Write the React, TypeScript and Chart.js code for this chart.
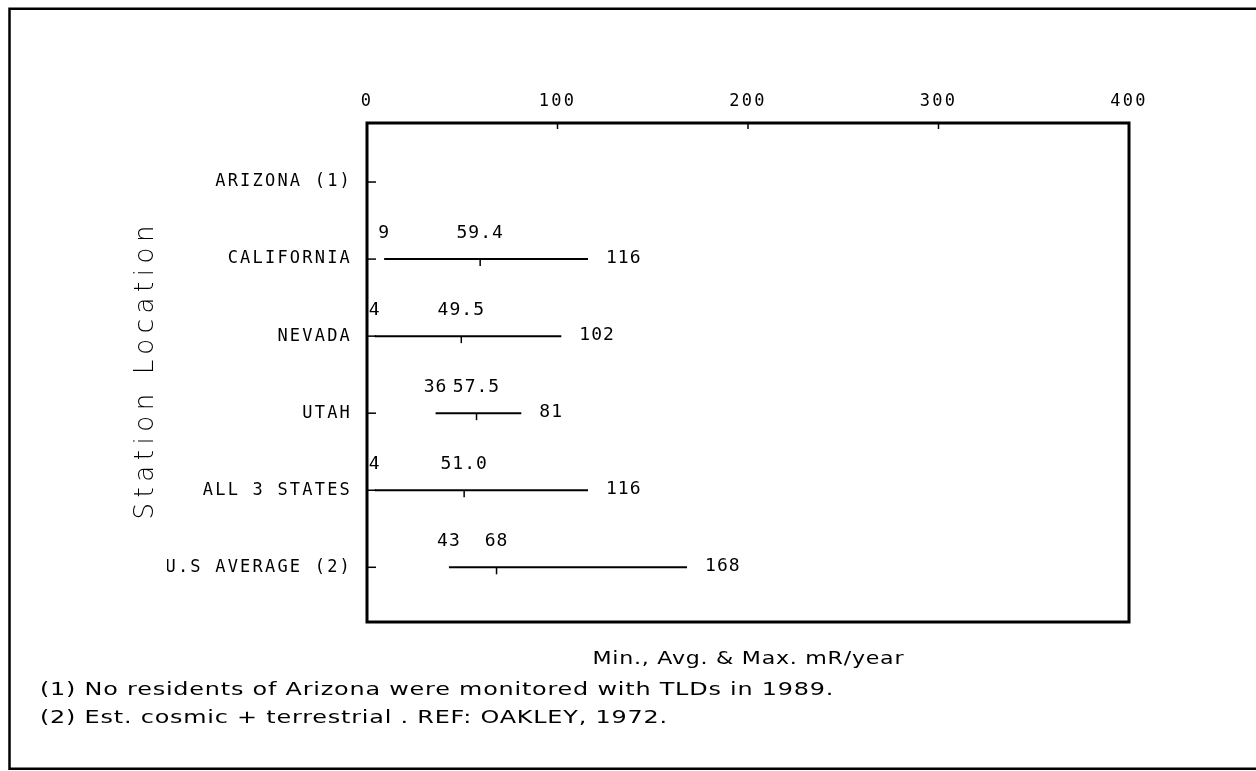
import React, { useEffect, useRef } from "react";
import { Chart, registerables } from "chart.js";

Chart.register(...registerables);

// ---- data ----
const categories = ["ARIZONA (1)", "CALIFORNIA", "NEVADA", "UTAH", "ALL 3 STATES", "U.S AVERAGE (2)"];
const minValues: (number | null)[] = [null, 9, 4, 36, 4, 43];
const avgValues: (number | null)[] = [null, 59.4, 49.5, 57.5, 51.0, 68];
const maxValues: (number | null)[] = [null, 116, 102, 81, 116, 168];
const minLabels = ["", "9", "4", "36", "4", "43"];
const avgLabels = ["", "59.4", "49.5", "57.5", "51.0", "68"];
const maxLabels = ["", "116", "102", "81", "116", "168"];
const xTickValues = [0, 100, 200, 300, 400];

const xTitle = "Min., Avg. & Max. mR/year";
const yTitle = "Station Location";
const footnotes = [
  "(1) No residents of Arizona were monitored with TLDs in 1989.",
  "(2) Est. cosmic + terrestrial . REF: OAKLEY, 1972.",
];

const W = 1256;
const H = 771;
const NOTE_FONT = "18px 'DejaVu Sans'";
const NOTE_SP = 0.6;

function measure(ctx: CanvasRenderingContext2D, text: string, font: string, sp: number) {
  ctx.font = font;
  (ctx as any).letterSpacing = sp + "px";
  const w = ctx.measureText(text).width - sp;
  return w;
}

function drawStretched(ctx: CanvasRenderingContext2D, text: string, x: number, y: number, sx: number, font: string, sp: number) {
  ctx.save();
  ctx.font = font;
  (ctx as any).letterSpacing = sp + "px";
  ctx.textAlign = "left";
  ctx.translate(x, y);
  ctx.scale(sx, 1);
  ctx.fillText(text, 0, 0);
  ctx.restore();
}

function fitSpacing(ctx: CanvasRenderingContext2D, text: string, width: number, font: string) {
  ctx.font = font;
  (ctx as any).letterSpacing = "0px";
  const w = ctx.measureText(text).width;
  return (width - w) / Math.max(1, text.length - 1);
}

const decorPlugin = {
  id: "decor",
  beforeDraw(chart: any) {
    chart.ctx.letterSpacing = "2.2px";
  },
  afterDraw(chart: any) {
    const ctx: CanvasRenderingContext2D = chart.ctx;
    const a = chart.chartArea;
    const xs = chart.scales.x;
    const ys = chart.scales.y;
    ctx.save();
    (ctx as any).letterSpacing = "0px";
    ctx.strokeStyle = "#000";
    ctx.fillStyle = "#000";
    ctx.lineCap = "butt";

    // outer frame (top, left, bottom)
    ctx.lineWidth = 2.5;
    ctx.beginPath();
    ctx.moveTo(W, 8.8);
    ctx.lineTo(9.5, 8.8);
    ctx.lineTo(9.5, 768.8);
    ctx.lineTo(W, 768.8);
    ctx.stroke();

    // plot border
    ctx.lineWidth = 3;
    ctx.strokeRect(a.left, a.top, a.right - a.left, a.bottom - a.top);

    // x ticks (inside, top)
    ctx.lineWidth = 1.5;
    xTickValues.forEach((v) => {
      const px = xs.getPixelForValue(v);
      ctx.beginPath();
      ctx.moveTo(px, a.top);
      ctx.lineTo(px, a.top + 6);
      ctx.stroke();
    });
    // y ticks (inside, left)
    categories.forEach((_, i) => {
      const py = ys.getPixelForValue(i);
      ctx.beginPath();
      ctx.moveTo(a.left, py);
      ctx.lineTo(a.left + 9, py);
      ctx.stroke();
    });

    // avg tick marks and value labels
    ctx.font = "18px 'DejaVu Sans Mono'";
    (ctx as any).letterSpacing = "1px";
    ctx.textBaseline = "middle";
    categories.forEach((_, i) => {
      const mn = minValues[i];
      const av = avgValues[i];
      const mx = maxValues[i];
      if (mn == null || av == null || mx == null) return;
      const py = ys.getPixelForValue(i);
      const pAvg = xs.getPixelForValue(av);
      ctx.lineWidth = 1.5;
      ctx.beginPath();
      ctx.moveTo(pAvg, py);
      ctx.lineTo(pAvg, py + 7);
      ctx.stroke();

      ctx.textAlign = "center";
      ctx.fillText(minLabels[i], xs.getPixelForValue(mn), py - 26);
      ctx.fillText(avgLabels[i], pAvg, py - 26);
      ctx.textAlign = "left";
      ctx.fillText(maxLabels[i], xs.getPixelForValue(mx) + 18, py - 1);
    });
    (ctx as any).letterSpacing = "0px";

    // x axis title (below plot) and footnotes
    ctx.textBaseline = "middle";
    const w2 = measure(ctx, footnotes[1], NOTE_FONT, NOTE_SP);
    const noteScale = 627 / w2;
    drawStretched(ctx, footnotes[0], 40, 690, noteScale, NOTE_FONT, NOTE_SP);
    drawStretched(ctx, footnotes[1], 40, 718, noteScale, NOTE_FONT, NOTE_SP);
    const wt = measure(ctx, xTitle, NOTE_FONT, NOTE_SP);
    const titleScale = 311 / wt;
    const cx = (a.left + a.right) / 2;
    drawStretched(ctx, xTitle, cx - 155.5, 659, titleScale, NOTE_FONT, NOTE_SP);

    // y axis title (rotated)
    ctx.save();
    const cy = (a.top + a.bottom) / 2;
    ctx.translate(153, cy);
    ctx.rotate(-Math.PI / 2);
    ctx.textBaseline = "alphabetic";
    const yfont = "200 26px 'DejaVu Sans'";
    const ysp = fitSpacing(ctx, yTitle, 294, yfont);
    ctx.font = yfont;
    (ctx as any).letterSpacing = ysp + "px";
    ctx.textAlign = "left";
    ctx.fillText(yTitle, -147, 0);
    ctx.restore();

    ctx.restore();
  },
};

export default function App() {
  const ref = useRef<HTMLCanvasElement | null>(null);
  useEffect(() => {
    if (!ref.current) return;
    const datasets = categories
      .map((c, i) => {
        const mn = minValues[i];
        const mx = maxValues[i];
        if (mn == null || mx == null) return null;
        return {
          label: c,
          data: [
            { x: mn, y: i },
            { x: mx, y: i },
          ],
          showLine: true,
          borderColor: "#000",
          backgroundColor: "#000",
          borderWidth: 2,
          pointRadius: 0,
        };
      })
      .filter(Boolean) as any[];

    const chart = new Chart(ref.current, {
      type: "scatter",
      data: { datasets },
      options: {
        animation: false,
        responsive: false,
        devicePixelRatio: 1,
        layout: { padding: { left: 167, top: 83, right: 127, bottom: 149 } },
        plugins: { legend: { display: false }, tooltip: { enabled: false }, title: { display: false } },
        scales: {
          x: {
            type: "linear",
            position: "top",
            min: 0,
            max: 400,
            afterBuildTicks: (s: any) => {
              s.ticks = xTickValues.map((v) => ({ value: v }));
            },
            afterFit: (s: any) => {
              s.height = 40;
            },
            ticks: {
              color: "#000",
              font: { family: "'DejaVu Sans Mono'", size: 17 },
              padding: 11,
              maxRotation: 0,
              callback: (v: any) => String(v),
            },
            grid: { display: false, drawTicks: false },
            border: { display: false },
          },
          y: {
            type: "linear",
            reverse: true,
            min: -0.766,
            max: 5.71,
            afterBuildTicks: (s: any) => {
              s.ticks = categories.map((_, i) => ({ value: i }));
            },
            afterFit: (s: any) => {
              s.width = 200;
            },
            ticks: {
              color: "#000",
              font: { family: "'DejaVu Sans Mono'", size: 17 },
              padding: 15,
              callback: (v: any) => categories[v] ?? "",
            },
            grid: { display: false, drawTicks: false },
            border: { display: false },
          },
        },
      },
      plugins: [decorPlugin],
    });
    return () => chart.destroy();
  }, []);

  return (
    <div style={{ position: "fixed", left: 0, top: 0, width: W, height: H, background: "#fff" }}>
      <canvas ref={ref} width={W} height={H} style={{ display: "block", width: W, height: H }} />
    </div>
  );
}
